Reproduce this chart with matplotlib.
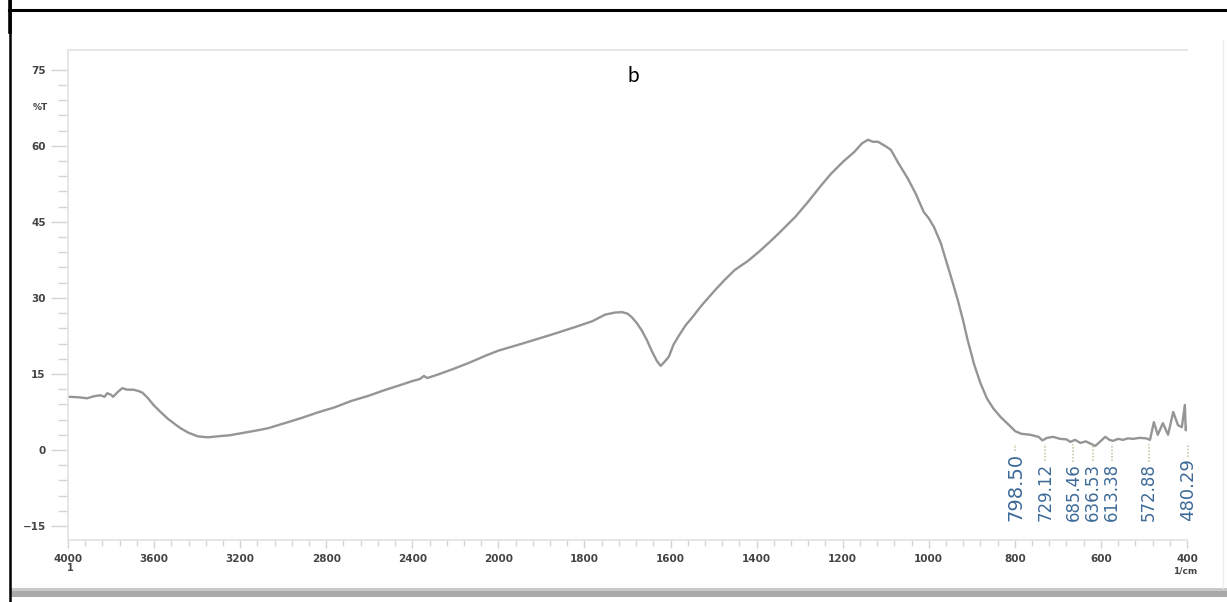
import numpy as np
import matplotlib
matplotlib.use("Agg")
import matplotlib.pyplot as plt
from matplotlib.lines import Line2D
from matplotlib.patches import Rectangle

# ---------------- data ----------------
wavenumber = [4000, 3950, 3911, 3880, 3850, 3830, 3818, 3800, 3790, 3770, 3748, 3725, 3696, 3670,
              3654, 3630, 3603, 3570, 3537, 3500, 3477, 3440, 3397, 3350, 3304, 3250, 3196, 3130,
              3070, 3000, 2916, 2840, 2762, 2682, 2603, 2530, 2449, 2400, 2365, 2346, 2330, 2280,
              2215, 2136, 2060, 2000, 1944, 1875, 1820, 1782, 1752, 1730, 1713, 1700, 1690, 1678,
              1667, 1655, 1644, 1632, 1623, 1615, 1604, 1593, 1581, 1565, 1551, 1528, 1498, 1475,
              1451, 1420, 1396, 1370, 1343, 1310, 1280, 1250, 1227, 1200, 1173, 1155, 1141, 1130,
              1118, 1100, 1088, 1070, 1049, 1030, 1012, 1000, 988, 972, 956, 945, 933, 921, 910,
              895, 880, 865, 850, 833, 817, 799, 785, 764, 745, 736, 725, 711, 695, 680, 671, 660,
              648, 635, 625, 613, 600, 590, 580, 572, 560, 549, 537, 525, 510, 495, 486, 477, 468,
              456, 444, 432, 421, 412, 405, 403, 400]
transmittance = [10.5, 10.4, 10.2, 10.6, 10.8, 10.5, 11.2, 10.9, 10.5, 11.4, 12.2, 11.9, 11.9, 11.6,
                 11.3, 10.3, 8.9, 7.5, 6.2, 5.0, 4.3, 3.4, 2.7, 2.5, 2.7, 2.9, 3.3, 3.8,
                 4.3, 5.2, 6.3, 7.4, 8.4, 9.7, 10.7, 11.8, 12.9, 13.6, 14.0, 14.6, 14.2, 14.9,
                 15.9, 17.2, 18.6, 19.6, 21.0, 22.8, 24.3, 25.4, 26.7, 27.1, 27.2, 26.9, 26.2, 25.0,
                 23.6, 21.7, 19.6, 17.6, 16.6, 17.3, 18.4, 20.8, 22.5, 24.6, 26.0, 28.5, 31.4, 33.5,
                 35.5, 37.3, 39.0, 41.0, 43.2, 46.0, 49.0, 52.2, 54.5, 56.8, 58.8, 60.5, 61.2, 60.8,
                 60.8, 59.9, 59.2, 56.5, 53.6, 50.5, 47.0, 45.7, 44.0, 40.8, 36.3, 33.2, 29.7, 25.8, 21.8,
                 17.0, 13.2, 10.2, 8.2, 6.5, 5.2, 3.7, 3.2, 3.0, 2.6, 1.9, 2.4, 2.6, 2.2, 2.1, 1.6, 2.0,
                 1.4, 1.7, 1.3, 0.8, 1.8, 2.6, 2.0, 1.8, 2.2, 2.0, 2.3, 2.2, 2.4, 2.3, 2.0, 5.5, 3.0,
                 5.3, 3.0, 7.5, 4.9, 4.5, 8.9, 3.9, 4.5]

peak_labels = ["798.50", "729.12", "685.46", "636.53", "613.38", "572.88", "480.29"]
# where each label sits along the axis in the picture (layout, not data)
label_pos = [798.6, 729.0, 664.0, 618.0, 574.0, 488.0, 398.0]
label_size = [14, 12, 12, 12, 12, 12, 13]

y_ticks = [-15, 0, 15, 30, 45, 60, 75]
x_ticks = [4000, 3600, 3200, 2800, 2400, 2000, 1800, 1600, 1400, 1200, 1000, 800, 600, 400]

# ---------------- scale: two-speed wavenumber axis ----------------
def fwd(x):
    x = np.asarray(x, dtype=float)
    return np.where(x >= 2000, x, 2 * x - 2000)

def inv(u):
    u = np.asarray(u, dtype=float)
    return np.where(u >= 2000, u, (u + 2000) / 2)

W, H = 1227, 602
fig = plt.figure(figsize=(W / 100, H / 100), dpi=100)
fig.patch.set_facecolor("white")

ax = fig.add_axes([68 / W, 1 - 540 / H, (1187 - 68) / W, (540 - 50) / H])
ax.set_xscale("function", functions=(fwd, inv))
ax.set_xlim(4000, 400)
ax.set_ylim(-17.75, 78.9)

ax.plot(wavenumber, transmittance, color="#959595", lw=1.7, solid_joinstyle="round")

tick_col = "#d4d4d4"
ax.spines["right"].set_visible(False)
for s in ["left", "top", "bottom"]:
    ax.spines[s].set_color("#e2e2e2")
    ax.spines[s].set_linewidth(1.2)

ax.set_yticks(y_ticks)
ax.set_yticks(np.arange(-15, 78, 3), minor=True)
ax.set_xticks(x_ticks)
ax.set_xticklabels([str(v) for v in x_ticks])
minor_x = list(np.arange(4000, 2000, -80)) + list(np.arange(2000, 399, -40))
ax.set_xticks(minor_x, minor=True)

ax.tick_params(axis="y", which="major", length=12, width=1, color=tick_col,
               labelsize=7.5, labelcolor="#444444", pad=4)
ax.tick_params(axis="y", which="minor", length=7, width=1, color=tick_col)
ax.tick_params(axis="x", which="major", length=6, width=1, color=tick_col,
               labelsize=7.5, labelcolor="#444444", pad=4)
ax.tick_params(axis="x", which="minor", length=4, width=1, color=tick_col)
for lab in ax.get_xticklabels() + ax.get_yticklabels():
    lab.set_fontweight("bold")

# %T label and unit labels
fig.text(40 / W, 1 - 107 / H, "%T", fontsize=6.5, color="#444444", fontweight="bold",
         ha="center", va="center")
fig.text(70 / W, 1 - 568 / H, "1", fontsize=7, color="#444444", fontweight="bold",
         ha="center", va="center")
fig.text(1185 / W, 1 - 571 / H, "1/cm", fontsize=6.5, color="#444444", fontweight="bold",
         ha="center", va="center")

# panel letter
fig.text(633 / W, 1 - 76 / H, "b", fontsize=15, color="black", family="Lato",
         ha="center", va="center")

# peak labels
texts = []
for lab, xp, fs in zip(peak_labels, label_pos, label_size):
    t = ax.text(xp, -14.0, lab, rotation=90, ha="center", va="bottom", fontsize=fs,
                color="#3d6a98", clip_on=False)
    texts.append(t)

fig.canvas.draw()
renderer = fig.canvas.get_renderer()
inv_data = ax.transData.inverted()
for t, xp in zip(texts, label_pos):
    bb = t.get_window_extent(renderer)
    top_y = inv_data.transform((bb.x0, bb.y1))[1]
    ax.plot([xp, xp], [top_y + 0.3, 1.2], color="#c9c9a8", lw=1.2, ls=(0, (1, 1)),
            clip_on=False)

# outer frame lines (scanned figure border)
fig.add_artist(Line2D([9 / W, 1], [1 - 9.5 / H, 1 - 9.5 / H], color="black", lw=2.2))
fig.add_artist(Line2D([9.5 / W, 9.5 / W], [0, 1], color="black", lw=1.8))
fig.add_artist(Line2D([10 / W, 10 / W], [1 - 32 / H, 1], color="black", lw=2.6))
fig.add_artist(Rectangle((10 / W, 1 - 597 / H), 1 - 10 / W, 9 / H, transform=fig.transFigure,
                         facecolor="#a9a9a9", edgecolor="none"))
fig.add_artist(Rectangle((10 / W, 1 - 591 / H), 1 - 10 / W, 3 / H, transform=fig.transFigure,
                         facecolor="#c8c8c8", edgecolor="none"))
fig.add_artist(Line2D([1223 / W, 1223 / W], [1 - 588 / H, 1 - 40 / H], color="#eeeeee", lw=1))

fig.savefig("out.png", dpi=100, facecolor="white")
